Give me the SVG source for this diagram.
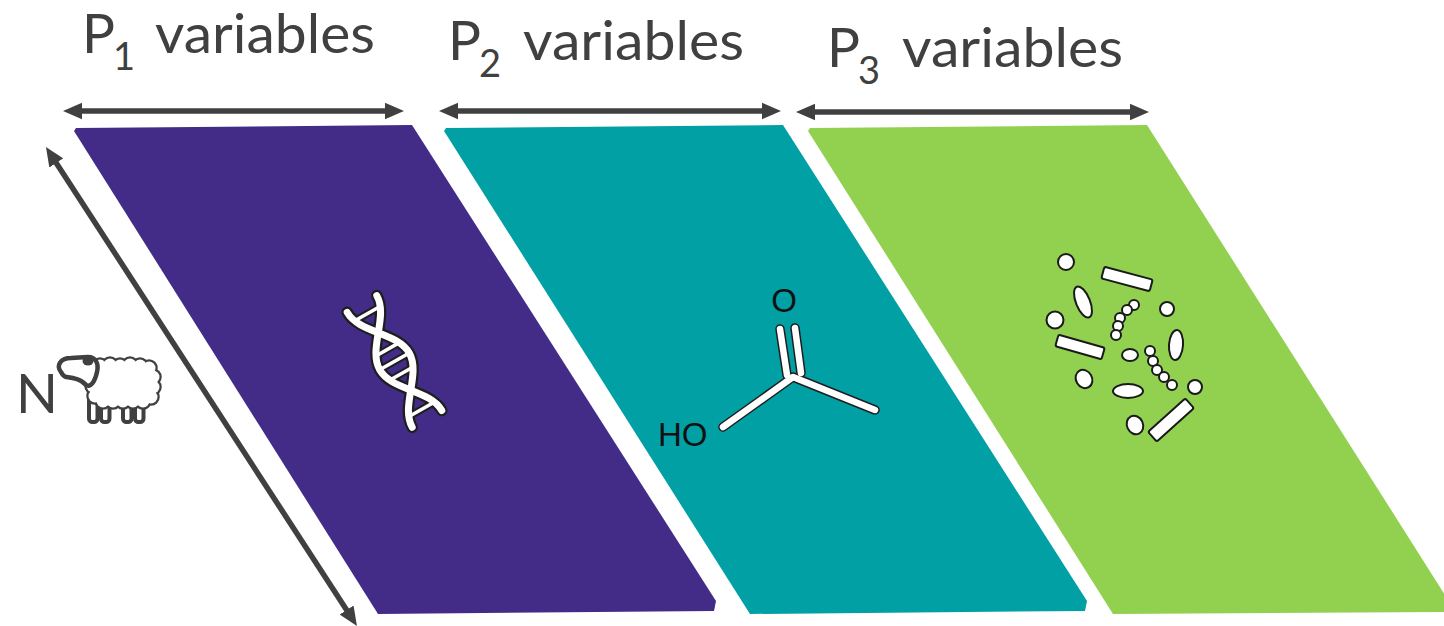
<svg xmlns="http://www.w3.org/2000/svg" width="1444" height="626" viewBox="0 0 1444 626">
  <style>
    .lbl { font-family: Lato, "Open Sans", "Liberation Sans", sans-serif; fill: #404040; }
    .big { font-size: 55px; }
    .sub { font-size: 38px; }
    .chem { font-family: "Liberation Sans", Arial, sans-serif; font-size: 33px; fill: #111111; }
    .axis { stroke: #404040; stroke-width: 5.5; fill: none; }
    .ink { stroke: #1e1e1e; fill: none; stroke-linecap: round; stroke-linejoin: round; }
    .paper { stroke: #ffffff; fill: none; stroke-linecap: round; stroke-linejoin: round; }
    .cell { fill: #ffffff; stroke: #1a1a1a; stroke-width: 2; }
    .wool { fill: #ffffff; stroke: #404040; stroke-width: 4.5; }
  </style>
  <defs>
    <marker id="ah" viewBox="0 -9 20 18" refX="9" refY="0" markerWidth="20" markerHeight="18" markerUnits="userSpaceOnUse" orient="auto-start-reverse">
      <path d="M0,-8.3 L19,0 L0,8.3 z" fill="#404040"/>
    </marker>
  </defs>

  <rect width="1444" height="626" fill="#ffffff"/>

  <!-- data blocks -->
  <g id="block-p1">
    <path d="M74,131 L76,128 L412,125 L716,601 L714,611 L378,614 Z" fill="#422C88"/>
  </g>
  <g id="block-p2">
    <path d="M444,131 L446,128 L783,125 L1087,601 L1085,611 L750,614 Z" fill="#00A0A5"/>
  </g>
  <g id="block-p3">
    <path d="M808,131 L810,128 L1147,125 L1452,606 L1451,612 L1113,614 Z" fill="#92D050"/>
  </g>

  <!-- dimension arrows -->
  <g id="connectors">
    <line class="axis" x1="73" y1="111" x2="394" y2="111" marker-start="url(#ah)" marker-end="url(#ah)"/>
    <line class="axis" x1="449" y1="111" x2="771" y2="111" marker-start="url(#ah)" marker-end="url(#ah)"/>
    <line class="axis" x1="806" y1="112" x2="1139" y2="112" marker-start="url(#ah)" marker-end="url(#ah)"/>
    <line class="axis" x1="51.4" y1="155.4" x2="351.5" y2="617.6" marker-start="url(#ah)" marker-end="url(#ah)"/>
  </g>

  <!-- column headings -->
  <g id="label-p1">
    <text class="lbl big" x="82" y="53">P</text>
    <text class="lbl sub" x="113" y="70">1</text>
    <text class="lbl big" x="155" y="53" textLength="220" lengthAdjust="spacingAndGlyphs">variables</text>
  </g>
  <g id="label-p2">
    <text class="lbl big" x="448" y="60">P</text>
    <text class="lbl sub" x="479" y="77">2</text>
    <text class="lbl big" x="523" y="60" textLength="221" lengthAdjust="spacingAndGlyphs">variables</text>
  </g>
  <g id="label-p3">
    <text class="lbl big" x="827" y="67">P</text>
    <text class="lbl sub" x="858" y="84">3</text>
    <text class="lbl big" x="902" y="67" textLength="221" lengthAdjust="spacingAndGlyphs">variables</text>
  </g>

  <!-- sample axis: N animals -->
  <g id="label-n">
    <text class="lbl big" x="16" y="413">N</text>
    <g id="sheep">
      <g fill="#ffffff" stroke="#404040" stroke-width="4">
        <rect x="89" y="394" width="8.5" height="28" rx="3.5"/>
        <rect x="101" y="394" width="8.5" height="28" rx="3.5"/>
        <rect x="123" y="394" width="8.5" height="28" rx="3.5"/>
        <rect x="135" y="394" width="8.5" height="28" rx="3.5"/>
      </g>
      <g class="wool">
        <circle cx="100" cy="366" r="6.5"/><circle cx="110" cy="365" r="6.5"/>
        <circle cx="120" cy="366" r="6.5"/><circle cx="130" cy="365" r="6.5"/>
        <circle cx="140" cy="366" r="6.5"/><circle cx="149" cy="368" r="6.5"/>
        <circle cx="153" cy="377" r="6.5"/><circle cx="153" cy="387" r="6.5"/>
        <circle cx="151" cy="397" r="6.5"/><circle cx="143" cy="401" r="6.5"/>
        <circle cx="133" cy="401" r="6.5"/><circle cx="123" cy="401" r="6.5"/>
        <circle cx="113" cy="401" r="6.5"/><circle cx="103" cy="401" r="6.5"/>
        <circle cx="95" cy="396" r="6.5"/><circle cx="93" cy="386" r="6.5"/>
        <circle cx="93" cy="376" r="6.5"/>
      </g>
      <g fill="#ffffff">
        <circle cx="100" cy="366" r="6.5"/><circle cx="110" cy="365" r="6.5"/>
        <circle cx="120" cy="366" r="6.5"/><circle cx="130" cy="365" r="6.5"/>
        <circle cx="140" cy="366" r="6.5"/><circle cx="149" cy="368" r="6.5"/>
        <circle cx="153" cy="377" r="6.5"/><circle cx="153" cy="387" r="6.5"/>
        <circle cx="151" cy="397" r="6.5"/><circle cx="143" cy="401" r="6.5"/>
        <circle cx="133" cy="401" r="6.5"/><circle cx="123" cy="401" r="6.5"/>
        <circle cx="113" cy="401" r="6.5"/><circle cx="103" cy="401" r="6.5"/>
        <circle cx="95" cy="396" r="6.5"/><circle cx="93" cy="386" r="6.5"/>
        <circle cx="93" cy="376" r="6.5"/>
        <rect x="94" y="366" width="60" height="36"/>
      </g>
      <path d="M61,372 C56,366 60,358 71,358 L88,357 C96,357 99,364 97,372 C95,381 91,388 86,385 C81,379 73,378 66,377 C63,376 62,374 61,372 Z" fill="#ffffff" stroke="#404040" stroke-width="4.5" stroke-linejoin="round"/>
      <ellipse cx="88" cy="361" rx="5.5" ry="4.5" fill="#404040"/>
    </g>
  </g>

  <!-- genome icon: double helix -->
  <g id="icon-dna" transform="translate(362,304) rotate(-29.5)">
    <g class="ink" stroke-width="11.5">
      <path d="M17,0 C17,24 -17,42 -17,66 C-17,90 17,108 17,132"/>
      <path d="M-17,0 C-17,24 17,42 17,66 C17,90 -17,108 -17,132"/>
      <path d="M-15,11 L15,11 M-13,52 L13,52 M-16,66 L16,66 M-13,80 L13,80 M-15,121 L15,121" stroke-width="7.5"/>
    </g>
    <g class="paper" stroke-width="7">
      <path d="M-15,11 L15,11 M-13,52 L13,52 M-16,66 L16,66 M-13,80 L13,80 M-15,121 L15,121" stroke-width="3.5"/>
      <path d="M17,0 C17,24 -17,42 -17,66 C-17,90 17,108 17,132"/>
      <path d="M-17,0 C-17,24 17,42 17,66 C17,90 -17,108 -17,132"/>
    </g>
  </g>

  <!-- metabolite icon: acetic acid -->
  <g id="icon-acid">
    <g class="ink" stroke-width="9.5" stroke="#333333">
      <path d="M723,427 L793,377 L875,410"/>
      <path d="M780,329 L787,375"/>
      <path d="M795,328 L801,373"/>
    </g>
    <g class="paper" stroke-width="6.5">
      <path d="M723,427 L793,377 L875,410"/>
      <path d="M780,329 L787,375"/>
      <path d="M795,328 L801,373"/>
    </g>
    <text class="chem" x="784" y="312" text-anchor="middle">O</text>
    <text class="chem" x="658" y="446">HO</text>
  </g>

  <!-- microbiome icon: assorted cells -->
  <g id="icon-microbes">
    <circle class="cell" cx="1066" cy="262" r="8"/>
    <rect class="cell" x="-25" y="-6" width="50" height="12" rx="2" transform="translate(1127,279) rotate(15)"/>
    <ellipse class="cell" cx="0" cy="0" rx="7" ry="16.5" transform="translate(1083,302) rotate(-22)"/>
    <circle class="cell" cx="1055" cy="320" r="8.5"/>
    <circle class="cell" cx="1134" cy="305" r="5"/>
    <circle class="cell" cx="1127" cy="310" r="5"/>
    <circle class="cell" cx="1120" cy="318" r="5"/>
    <circle class="cell" cx="1118" cy="326" r="5"/>
    <circle class="cell" cx="1116" cy="335" r="5"/>
    <circle class="cell" cx="1167" cy="309" r="7"/>
    <rect class="cell" x="-24" y="-6" width="48" height="12" rx="2" transform="translate(1080,347) rotate(16)"/>
    <ellipse class="cell" cx="1130" cy="355" rx="8" ry="6"/>
    <ellipse class="cell" cx="0" cy="0" rx="7" ry="15" transform="translate(1176,345) rotate(4)"/>
    <circle class="cell" cx="1150" cy="351" r="5"/>
    <circle class="cell" cx="1153" cy="361" r="5"/>
    <circle class="cell" cx="1157" cy="370" r="5"/>
    <circle class="cell" cx="1164" cy="377" r="5"/>
    <circle class="cell" cx="1172" cy="385" r="5"/>
    <ellipse class="cell" cx="0" cy="0" rx="8" ry="9.5" transform="translate(1084,379) rotate(-30)"/>
    <ellipse class="cell" cx="1128" cy="391" rx="15" ry="7"/>
    <circle class="cell" cx="1195" cy="387" r="7"/>
    <ellipse class="cell" cx="0" cy="0" rx="8" ry="9.5" transform="translate(1135,425) rotate(-25)"/>
    <rect class="cell" x="-25" y="-6.5" width="50" height="13" rx="2" transform="translate(1171,420) rotate(-42)"/>
  </g>
</svg>
